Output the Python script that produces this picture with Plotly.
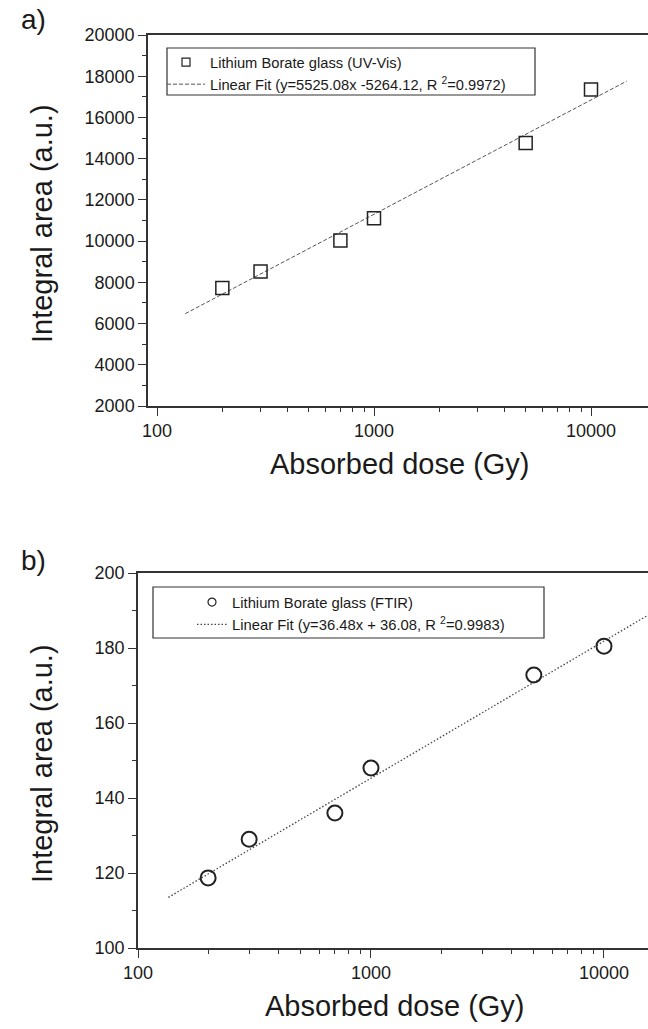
import plotly.graph_objects as go

# ---------------- data ----------------
dose = [200, 300, 700, 1000, 5000, 10000]
uv_area = [7725, 8520, 10030, 11110, 14760, 17350]
ftir_area = [118.7, 129.0, 136.0, 148.0, 172.8, 180.5]

fit_a_x = [135, 14600]
fit_a_y = [6480, 17760]
fit_b_x = [135, 15700]
fit_b_y = [113.5, 189.0]

name_a_pts = "Lithium Borate glass (UV-Vis)"
name_a_fit = "Linear Fit (y=5525.08x -5264.12, R <sup>2</sup>=0.9972)"
name_b_pts = "Lithium Borate glass (FTIR)"
name_b_fit = "Linear Fit (y=36.48x + 36.08, R <sup>2</sup>=0.9983)"

x_title = "Absorbed dose (Gy)"
y_title = "Integral area (a.u.)"

# ---------------- geometry helpers ----------------
W, H = 648, 1029
def px(x):
    return x / W
def py(y):
    return 1 - y / H

FONT = "Liberation Sans, Arial, sans-serif"
TXT = "#1a1a1a"
AX = "#333333"

fig = go.Figure()

# panel a
fig.add_trace(go.Scatter(x=fit_a_x, y=fit_a_y, mode="lines", name=name_a_fit,
                         line=dict(color="#555555", width=1, dash="4px,2px"),
                         xaxis="x", yaxis="y", legend="legend", legendrank=2))
fig.add_trace(go.Scatter(x=dose, y=uv_area, mode="markers", showlegend=False,
                         marker=dict(symbol="square-open", size=13, color="#222222",
                                     line=dict(width=1.5, color="#222222")),
                         xaxis="x", yaxis="y"))
fig.add_trace(go.Scatter(x=[None], y=[None], mode="markers", name=name_a_pts,
                         marker=dict(symbol="square-open", size=8, color="#222222",
                                     line=dict(width=1.2, color="#222222")),
                         xaxis="x", yaxis="y", legend="legend", legendrank=1))

# panel b
fig.add_trace(go.Scatter(x=fit_b_x, y=fit_b_y, mode="lines", name=name_b_fit,
                         line=dict(color="#444444", width=1.3, dash="1.5px,2px"),
                         xaxis="x2", yaxis="y2", legend="legend2", legendrank=2))
fig.add_trace(go.Scatter(x=dose, y=ftir_area, mode="markers", showlegend=False,
                         marker=dict(symbol="circle-open", size=15, color="#222222",
                                     line=dict(width=2, color="#222222")),
                         xaxis="x2", yaxis="y2"))
fig.add_trace(go.Scatter(x=[None], y=[None], mode="markers", name=name_b_pts,
                         marker=dict(symbol="circle-open", size=8, color="#222222",
                                     line=dict(width=1.2, color="#222222")),
                         xaxis="x2", yaxis="y2", legend="legend2", legendrank=1))

minor_x = [v * m for m in (100, 1000, 10000) for v in range(2, 10)]

def xaxis(domain, rng, anchor):
    return dict(type="log", domain=domain, range=rng, anchor=anchor,
                showgrid=False, zeroline=False, automargin=False,
                showline=True, linecolor=AX, linewidth=1.5, mirror=True,
                ticks="outside", ticklen=8, tickwidth=1.3, tickcolor=AX,
                tickvals=[100, 1000, 10000], ticktext=["100", "1000", "10000"],
                tickfont=dict(family=FONT, size=18, color=TXT),
                minor=dict(tickvals=minor_x, ticks="outside", ticklen=4,
                           tickwidth=1.1, tickcolor=AX, showgrid=False))

def yaxis(domain, rng, dtick, mdt, anchor):
    return dict(domain=domain, range=rng, anchor=anchor,
                showgrid=False, zeroline=False, automargin=False,
                showline=True, linecolor=AX, linewidth=1.5, mirror=True,
                ticks="outside", ticklen=8, tickwidth=1.3, tickcolor=AX,
                dtick=dtick, tick0=0, tickformat="d",
                tickfont=dict(family=FONT, size=18, color=TXT),
                minor=dict(dtick=mdt, ticks="outside", ticklen=4,
                           tickwidth=1.1, tickcolor=AX, showgrid=False))

fig.update_layout(
    width=W, height=H, autosize=False,
    margin=dict(l=0, r=0, t=0, b=0, pad=0),
    paper_bgcolor="white", plot_bgcolor="white",
    font=dict(family=FONT, color=TXT),
    xaxis=xaxis([px(148), 1], [1.9585, 4.2627], "y"),
    yaxis=yaxis([py(406), py(35)], [2000, 20000], 2000, 1000, "x"),
    xaxis2=xaxis([px(138), 1], [2, 4.189], "y2"),
    yaxis2=yaxis([py(948), py(573)], [100, 200], 20, 10, "x2"),
    legend=dict(x=px(162), y=py(46), xanchor="left", yanchor="top",
                bgcolor="rgba(0,0,0,0)", borderwidth=0, itemwidth=38,
                font=dict(family=FONT, size=14.7, color=TXT),
                tracegroupgap=0, traceorder="normal"),
    legend2=dict(x=px(192), y=py(586), xanchor="left", yanchor="top",
                 bgcolor="rgba(0,0,0,0)", borderwidth=0,
                 font=dict(family=FONT, size=14.8, color=TXT),
                 tracegroupgap=0, traceorder="normal"),
    showlegend=True,
)

# legend frames
fig.add_shape(type="rect", xref="paper", yref="paper",
              x0=px(167), x1=px(535), y0=py(95), y1=py(48),
              line=dict(color=AX, width=1.2), fillcolor="rgba(0,0,0,0)")
fig.add_shape(type="rect", xref="paper", yref="paper",
              x0=px(153), x1=px(544), y0=py(638), y1=py(587),
              line=dict(color=AX, width=1.2), fillcolor="rgba(0,0,0,0)")

# titles and panel labels
ann = [
    dict(text=x_title, x=px(400), y=py(464), size=29, angle=0),
    dict(text=x_title, x=px(395), y=py(1006), size=29, angle=0),
    dict(text=y_title, x=px(42), y=py(224), size=29, angle=-90),
    dict(text=y_title, x=px(42), y=py(764), size=29, angle=-90),
    dict(text="a)", x=px(33), y=py(20), size=28, angle=0),
    dict(text="b)", x=px(33), y=py(560), size=28, angle=0),
]
for a in ann:
    fig.add_annotation(text=a["text"], x=a["x"], y=a["y"], xref="paper", yref="paper",
                       xanchor="center", yanchor="middle", showarrow=False,
                       textangle=a["angle"],
                       font=dict(family=FONT, size=a["size"], color=TXT))

fig.write_html("out.html",
               config={"displayModeBar": False},
               post_script="document.body.style.margin='0';"
                           "document.body.style.padding='0';"
                           "document.documentElement.style.overflow='hidden';"
                           "document.body.style.overflow='hidden';")
